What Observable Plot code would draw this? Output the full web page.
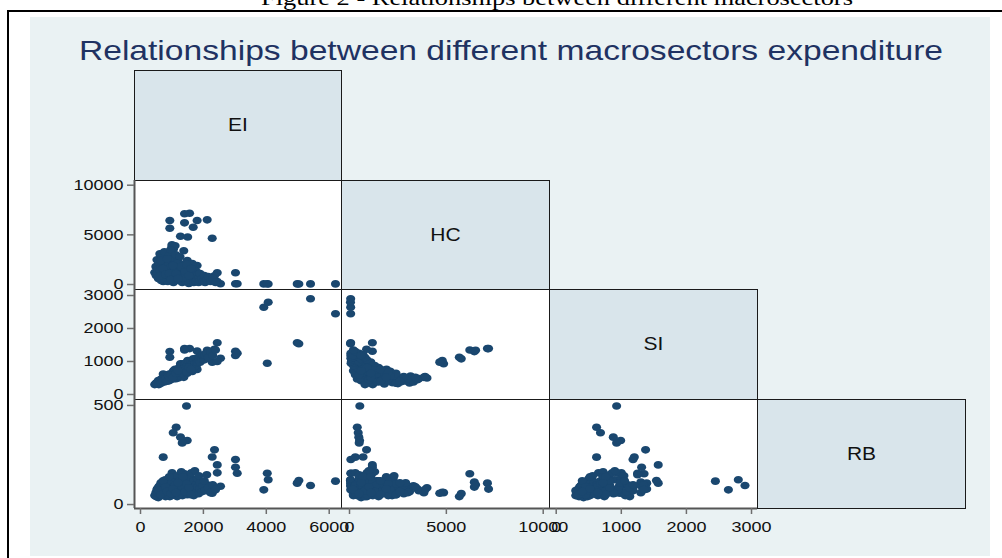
<!DOCTYPE html>
<html><head><meta charset="utf-8">
<script src="https://cdn.jsdelivr.net/npm/d3@7"></script>
<script src="https://cdn.jsdelivr.net/npm/@observablehq/plot@0.6"></script>
<style>
html,body{margin:0;padding:0;background:#fff;width:1002px;height:558px;overflow:hidden;position:relative;font-family:"Liberation Sans",Arial,sans-serif;}
#frame{position:absolute;left:7px;top:10px;width:1100px;height:600px;border-left:2px solid #000;border-top:2px solid #000;}
#bg{position:absolute;left:30px;top:17px;width:960px;height:539px;background:#eaf2f3;}
#caption{position:absolute;left:0;width:1114px;text-align:center;top:-13px;line-height:22px;font-family:"Liberation Serif","Times New Roman",serif;font-size:22px;color:#000;white-space:nowrap;transform:scaleX(1.2);transform-origin:557px 0;}
#title{position:absolute;left:0;width:1022px;text-align:center;top:37px;line-height:28px;font-size:28px;color:#1f3262;white-space:nowrap;transform:scaleX(1.2);transform-origin:511px 0;}
.cell{position:absolute}
.cell svg{overflow:visible;display:block}
[aria-label="frame"]{shape-rendering:crispEdges}
[aria-label="y-axis tick"],[aria-label="x-axis tick"]{stroke:#6e6e6e;stroke-width:1.5px}
</style></head>
<body>
<div id="bg"></div>
<div id="frame"></div>
<div id="caption">Figure 2 - Relationships between different macrosectors</div>
<div id="title">Relationships between different macrosectors expenditure</div>
<div id="cells"></div>
<script>
// ---- data: one value per observation, aligned by index ----
const EI = [
  932, 932, 1400, 1560, 1400, 1800, 2120, 1675, 1270, 1500,
  2280, 1000, 1050, 960, 636, 1800, 2440, 3020, 3020, 2544,
  3075, 3920, 4060, 4030, 4983, 5035, 5406, 6200, 1463, 1135,
  1040, 1272, 1485, 1326, 722, 2353, 2280, 2440, 1200, 1000, 1100,
  452, 488, 497, 523, 548, 566, 577, 606, 615, 648,
  657, 684, 703, 716, 745, 758, 786, 797, 824, 838,
  866, 877, 905, 918, 944, 956, 987, 1003, 1016, 1047,
  1058, 1086, 1097, 1124, 1139, 1165, 1177, 1206, 1218, 1245,
  1256, 1284, 1297, 1326, 1335, 1367, 1376, 1405, 1418, 1446,
  1455, 1487, 1496, 1528, 1537, 1564, 1575, 1608, 1616, 1647,
  1655, 1688, 1694, 1726, 1735, 1768, 1776, 1807, 1815, 1848,
  1856, 1887, 1895, 1946, 1975, 2028, 2054, 2107, 2155, 2226,
  2295, 2386, 534, 607, 694, 748, 833, 866, 935, 984,
  1055, 1106, 1174, 1227, 1293, 1346, 1414, 1466, 1535, 1604,
  583, 652, 718, 795, 847, 914, 966, 1034, 1127, 1193
];
const HC = [
  6445, 5670, 7120, 7180, 6210, 6445, 6510, 5770, 4860, 4790,
  4660, 3840, 3580, 3150, 2920, 1910, 1180, 1180, 70, 70,
  70, 60, 50, 80, 60, 50, 60, 60, 532, 400,
  450, 480, 520, 500, 300, 880, 700, 300, 2257, 4000, 3900,
  1200, 1800, 900, 2500, 1500, 600, 2200, 1000, 3100, 1700,
  400, 2700, 1300, 800, 2000, 3300, 500, 1500, 2400, 1100,
  300, 1900, 2900, 700, 1400, 3500, 2200, 900, 1600, 200,
  2600, 1200, 500, 3000, 1800, 800, 2300, 1000, 400, 1500,
  2800, 600, 1300, 200, 2000, 900, 3400, 500, 1600, 1100,
  300, 2400, 700, 1400, 100, 1900, 900, 400, 1200, 2100,
  600, 1500, 200, 1000, 800, 300, 1300, 500, 1000, 200,
  700, 400, 1100, 600, 300, 900, 200, 500, 800, 300,
  600, 200, 1100, 1400, 600, 1200, 2000, 900, 1700, 1200,
  700, 1400, 2100, 900, 1800, 700, 1300, 2000, 900, 1600,
  800, 2400, 1600, 1000, 2600, 1100, 500, 1900, 1100, 600
];
const SI = [
  1300, 1130, 1390, 1390, 1350, 1320, 1340, 1080, 930, 1030,
  980, 520, 480, 560, 420, 760, 1567, 1312, 1180, 1100,
  1250, 2645, 2797, 948, 1567, 1540, 2900, 2445, 928, 620,
  680, 877, 990, 928, 620, 1373, 1200, 1000, 500, 500, 540,
  300, 320, 350, 330, 380, 420, 360, 400, 350, 430,
  470, 390, 450, 500, 420, 380, 540, 480, 440, 560,
  600, 500, 420, 620, 560, 450, 520, 650, 600, 720,
  500, 680, 760, 480, 600, 740, 560, 700, 800, 680,
  540, 820, 720, 880, 640, 800, 520, 900, 720, 820,
  950, 640, 900, 780, 1000, 720, 880, 1000, 860, 700,
  960, 820, 1060, 900, 950, 1100, 880, 1000, 960, 1120,
  1040, 1150, 980, 1080, 1200, 1050, 1180, 1250, 1120, 1300,
  1180, 1350, 360, 390, 460, 470, 450, 530, 500, 580,
  650, 620, 560, 700, 640, 760, 740, 680, 820, 760,
  300, 340, 400, 450, 400, 520, 600, 520, 640, 720
];
const RB = [
  113, 40, 108, 78, 155, 88, 100, 55, 60, 62,
  57, 60, 70, 90, 80, 130, 200, 188, 227, 92,
  158, 74, 125, 158, 108, 121, 96, 118, 497, 390,
  362, 340, 323, 311, 239, 276, 240, 160, 130, 85, 75,
  45, 60, 40, 75, 55, 35, 90, 50, 65, 110,
  45, 100, 70, 85, 60, 95, 125, 40, 105, 75,
  55, 100, 110, 65, 120, 80, 45, 160, 90, 50,
  110, 70, 135, 60, 95, 40, 145, 85, 60, 120,
  55, 100, 165, 75, 45, 130, 90, 60, 110, 150,
  80, 50, 125, 70, 95, 140, 55, 105, 160, 65,
  85, 120, 45, 170, 75, 100, 60, 130, 90, 55,
  145, 80, 110, 65, 95, 120, 70, 150, 85, 60,
  100, 75, 80, 95, 55, 105, 50, 90, 70, 115,
  60, 100, 75, 50, 95, 140, 65, 105, 85, 50,
  70, 50, 120, 90, 65, 140, 55, 80, 60, 110
];
const variables = ["EI", "HC", "SI", "RB"];
const xTicks = {EI: [0, 2000, 4000, 6000], HC: [0, 5000, 10000], SI: [0, 1000, 2000, 3000]};
const yTicks = {HC: [0, 5000, 10000], SI: [0, 1000, 2000, 3000], RB: [0, 500]};

// ---- layout / scale settings ----
const xDomain = {EI: [-191, 6391], HC: [-413, 10325], SI: [-103, 3092]};
const yDomain = {HC: [-503, 10473], SI: [-152, 3182], RB: [-20, 530]};
const colX = [134, 341, 549, 757, 965];
const rowY = [70, 180, 289, 399, 508];
const navy = "#1a476f";
const STRETCH = 1.2;

const rows = EI.map((e, i) => ({EI: e, HC: HC[i], SI: SI[i], RB: RB[i]}));

const ellipse = {
  draw(ctx, size) {
    const r = Math.sqrt(size / Math.PI), rx = r * STRETCH, ry = r, k = 0.5523;
    ctx.moveTo(rx, 0);
    ctx.bezierCurveTo(rx, ry * k, rx * k, ry, 0, ry);
    ctx.bezierCurveTo(-rx * k, ry, -rx, ry * k, -rx, 0);
    ctx.bezierCurveTo(-rx, -ry * k, -rx * k, -ry, 0, -ry);
    ctx.bezierCurveTo(rx * k, -ry, rx, -ry * k, rx, 0);
    ctx.closePath();
  }
};

// widen text horizontally about its anchor point (vertical attributes untouched)
function stretchText(root, k) {
  root.querySelectorAll("text").forEach(t => {
    const xa = t.getAttribute("x");
    const x = xa && /^-?[\d.]+$/.test(xa) ? parseFloat(xa) : 0;
    if (xa && /^-?[\d.]+$/.test(xa)) t.removeAttribute("x");
    const tr = t.getAttribute("transform") || "";
    t.setAttribute("transform", `${tr} translate(${x},0) scale(${k},1)`);
  });
}

const container = document.getElementById("cells");
const baseStyle = {background: "transparent", overflow: "visible", fontFamily: "'Liberation Sans', Arial, sans-serif", fontSize: "15px", color: "#111"};

function place(svg, left, top) {
  const div = document.createElement("div");
  div.className = "cell";
  div.style.left = left + "px";
  div.style.top = top + "px";
  div.appendChild(svg);
  container.appendChild(div);
  stretchText(svg, STRETCH);
}

for (let i = 0; i < 4; i++) {
  for (let j = 0; j <= i; j++) {
    const w = colX[j + 1] - colX[j], h = rowY[i + 1] - rowY[i];
    if (i === j) {
      const svg = Plot.plot({
        width: w, height: h, margin: 0, style: baseStyle,
        marks: [
          Plot.frame({fill: "#d9e5eb", stroke: "#1a1a1a", strokeWidth: 1}),
          Plot.text([variables[i]], {frameAnchor: "middle", text: d => d, fontSize: 17.5, fill: "#111"})
        ]
      });
      place(svg, colX[j], rowY[i]);
      continue;
    }
    const vx = variables[j], vy = variables[i];
    const ml = j === 0 ? 110 : 0, mb = i === 3 ? 45 : 0;
    const marks = [
      Plot.frame({fill: "white", stroke: "none"}),
      Plot.dot(rows, {x: vx, y: vy, r: 3.8, symbol: ellipse, fill: navy}),
      Plot.frame({stroke: "#1a1a1a", strokeWidth: 1})
    ];
    if (j === 0) {
      marks.push(Plot.ruleX([xDomain[vx][0]], {stroke: "#555", strokeWidth: 2}));
      marks.push(Plot.axisY({ticks: yTicks[vy], tickSize: 7, tickPadding: 4, tickFormat: d => String(d), label: null, fontSize: 15}));
    }
    if (i === 3) {
      marks.push(Plot.ruleY([yDomain[vy][0]], {stroke: "#555", strokeWidth: 2}));
      marks.push(Plot.axisX({ticks: xTicks[vx], tickSize: 6, tickPadding: 7, tickFormat: d => String(d), label: null, fontSize: 15}));
    }
    const svg = Plot.plot({
      width: w + ml, height: h + mb,
      marginLeft: ml, marginRight: 0, marginTop: 0, marginBottom: mb,
      style: baseStyle,
      x: {domain: xDomain[vx], ...(i === 3 ? {} : {axis: null})},
      y: {domain: yDomain[vy], ...(j === 0 ? {} : {axis: null})},
      marks
    });
    place(svg, colX[j] - ml, rowY[i]);
  }
}
</script>
</body></html>
